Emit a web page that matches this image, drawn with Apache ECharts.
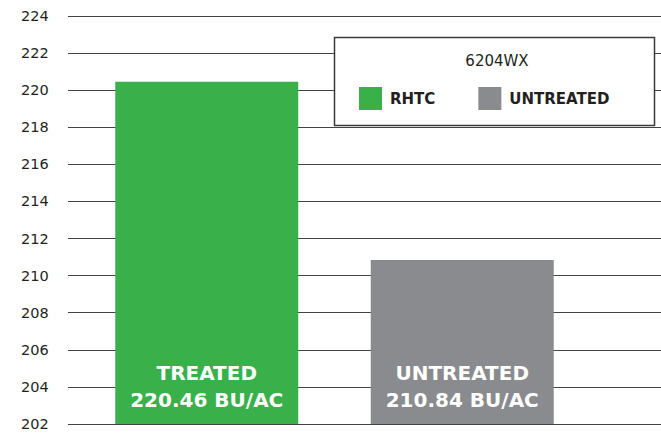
<!DOCTYPE html>
<html>
<head>
<meta charset="utf-8">
<script src="https://cdn.jsdelivr.net/npm/echarts@6/dist/echarts.min.js"></script>
<style>
  html, body { margin: 0; padding: 0; background: #fff; }
  #chart { width: 661px; height: 434px; }
</style>
</head>
<body>
<div id="chart"></div>
<script>
var categories = ['TREATED', 'UNTREATED'];
var seriesNames = ['RHTC', 'UNTREATED'];
var treatedValues = [220.46, '-'];
var untreatedValues = ['-', 210.84];
var barLabels = ['TREATED\n220.46 BU/AC', 'UNTREATED\n210.84 BU/AC'];
var yMin = 202, yMax = 224, yStep = 2;
var legendTitle = '6204WX';

var green = '#39b04a';
var gray = '#8a8b8e';
var ink = '#231f20';
var font = 'DejaVu Sans';

var chart = echarts.init(document.getElementById('chart'), null, { renderer: 'svg' });

function barLabel(i) {
  return {
    show: true,
    position: 'insideBottom',
    distance: 11,
    formatter: function() { return barLabels[i]; },
    color: '#fff',
    fontFamily: font,
    fontWeight: 'bold',
    fontSize: 20,
    lineHeight: 27
  };
}

chart.setOption({
  animation: false,
  title: {
    text: legendTitle,
    left: 497,
    textAlign: 'center',
    top: 53,
    padding: 0,
    textStyle: { color: ink, fontFamily: font, fontWeight: 'normal', fontSize: 15 }
  },
  legend: {
    data: seriesNames,
    left: 359,
    top: 87,
    padding: 0,
    itemWidth: 23,
    itemHeight: 23,
    itemGap: 43,
    icon: 'rect',
    selectedMode: false,
    textStyle: { color: ink, fontFamily: font, fontWeight: 'bold', fontSize: 15, padding: [0, 0, 0, 3] }
  },
  graphic: [{
    type: 'rect',
    z: 3,
    shape: { x: 334.5, y: 37.5, width: 320, height: 88 },
    style: { fill: '#fff', stroke: '#3a3a3a', lineWidth: 1.5 }
  }],
  grid: [
    { left: 68, right: 0, top: 16, bottom: 10 },
    { left: 79, right: 71, top: 16, bottom: 10 }
  ],
  xAxis: [
    { gridIndex: 0, type: 'category', data: categories, show: false },
    { gridIndex: 1, type: 'category', data: categories, show: false }
  ],
  yAxis: [
    {
      gridIndex: 0,
      type: 'value',
      min: yMin,
      max: yMax,
      interval: yStep,
      axisLine: { show: false },
      axisTick: { show: false },
      axisLabel: { color: ink, fontFamily: font, fontSize: 14.5, align: 'left', margin: 47 },
      splitLine: { lineStyle: { color: '#444', width: 1 } }
    },
    {
      gridIndex: 1,
      type: 'value',
      min: yMin,
      max: yMax,
      interval: yStep,
      show: false,
      splitLine: { show: false }
    }
  ],
  series: [
    {
      name: seriesNames[0],
      type: 'bar',
      xAxisIndex: 1,
      yAxisIndex: 1,
      data: treatedValues,
      barWidth: 183,
      barGap: '-100%',
      itemStyle: { color: green },
      label: barLabel(0)
    },
    {
      name: seriesNames[1],
      type: 'bar',
      xAxisIndex: 1,
      yAxisIndex: 1,
      data: untreatedValues,
      barWidth: 183,
      barGap: '-100%',
      itemStyle: { color: gray },
      label: barLabel(1)
    }
  ]
});
</script>
</body>
</html>
